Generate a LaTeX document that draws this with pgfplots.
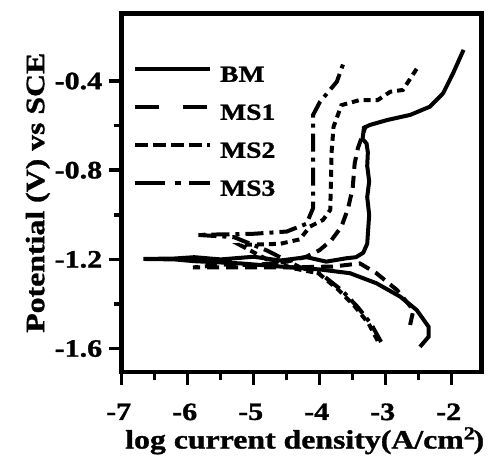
\documentclass[border=0pt]{standalone}
\usepackage{pgfplots}
\pgfplotsset{compat=1.18}
\usepackage{fontspec}
\setmainfont{Liberation Serif}[FakeStretch=1.2, BoldFeatures={FakeBold=1.2}]

\begin{document}
\begin{tikzpicture}
\begin{axis}[
    scale only axis,
    width=360pt, height=358.5pt,
    xmin=-7, xmax=-1.545,
    ymin=-1.705, ymax=-0.097,
    xtick={-7,-6,-5,-4,-3,-2},
    ytick={-1.6,-1.2,-0.8,-0.4},
    yticklabels={-1.6,-1.2,-0.8,-0.4},
    minor x tick num=1,
    minor y tick num=1,
    xtick pos=bottom, ytick pos=left,
    tick align=outside,
    major tick length=13pt,
    minor tick length=8pt,
    tick style={line width=3.5pt, black},
    axis line style={line width=4.5pt},
    /pgf/number format/assume math mode=true,
    ticklabel style={font=\bfseries\fontsize{25}{25}\selectfont},
    xticklabel style={yshift=-15pt, xshift=-3pt},
    yticklabel style={xshift=-3pt},
    label style={font=\bfseries\fontsize{26.5}{26.5}\selectfont},
    xlabel={log current density(A/cm$^{\mathbf{2}}$)},
    ylabel={Potential (V) vs SCE},
    xlabel style={yshift=0pt, xshift=3pt},
    ylabel style={yshift=-2pt},
    legend image code/.code={\draw[#1, line width=4pt] (0pt,6.5pt) -- (75pt,6.5pt);},
    legend style={draw=none, fill=none, at={(axis cs:-6.83,-0.335)}, anchor=north west,
        font=\bfseries\fontsize{23}{23}\selectfont, inner sep=0pt, column sep=8pt,
        row sep=21pt, nodes={inner sep=0pt, text height=15pt, text depth=2pt}},
    legend cell align=left,
]
\coordinate (sw) at (rel axis cs:0,0);
\coordinate (ne) at (rel axis cs:1,1);

% BM
\addplot[black, line width=4pt, forget plot] coordinates {
(-2.48,-1.592) (-2.35,-1.547) (-2.35,-1.502) (-2.53,-1.427) (-2.78,-1.367)
(-3.14,-1.307) (-3.54,-1.262) (-4.0,-1.245) (-4.6,-1.232) (-5.2,-1.218)
(-5.9,-1.208) (-6.2,-1.2) (-6.67,-1.198) (-6.2,-1.196) (-5.9,-1.19)
(-5.5,-1.2) (-5.0,-1.188) (-4.6,-1.205) (-4.2,-1.19) (-3.9,-1.21)
(-3.6,-1.195) (-3.45,-1.19) (-3.34,-1.17) (-3.28,-1.13)
(-3.25,-1.0) (-3.28,-0.92) (-3.25,-0.85) (-3.28,-0.78) (-3.27,-0.72) (-3.29,-0.68) (-3.35,-0.66)
(-3.33,-0.61) (-3.24,-0.597) (-2.98,-0.575) (-2.63,-0.552) (-2.33,-0.515)
(-2.13,-0.455) (-1.98,-0.366) (-1.82,-0.26)
};
% MS1
\addplot[black, line width=4pt, dash pattern=on 12pt off 7pt, forget plot] coordinates {
(-2.63,-1.494) (-2.58,-1.427) (-2.83,-1.337) (-3.14,-1.262) (-3.39,-1.218)
(-3.8,-1.232) (-4.5,-1.236) (-5.92,-1.236) (-5.4,-1.222) (-5.0,-1.226) (-4.5,-1.21)
(-4.2,-1.188) (-4.0,-1.158) (-3.82,-1.113) (-3.67,-1.053) (-3.57,-0.971)
(-3.5,-0.88) (-3.47,-0.77) (-3.42,-0.7) (-3.36,-0.65) (-3.3,-0.6)
};
% MS2
\addplot[black, line width=4pt, dash pattern=on 7pt off 5pt, forget plot] coordinates {
(-3.12,-1.565) (-3.26,-1.487) (-3.47,-1.41) (-3.72,-1.335) (-4.02,-1.262)
(-4.4,-1.24) (-4.8,-1.2) (-5.21,-1.135) (-4.6,-1.13) (-4.3,-1.11)
(-4.15,-1.053) (-3.95,-1.023) (-3.84,-0.978) (-3.83,-0.85) (-3.82,-0.72)
(-3.79,-0.605) (-3.67,-0.508) (-3.39,-0.485) (-3.12,-0.485) (-2.93,-0.448)
(-2.74,-0.44) (-2.51,-0.336)
};
% MS3
\addplot[black, line width=4pt, dash pattern=on 18pt off 6pt on 4pt off 6pt, forget plot] coordinates {
(-3.07,-1.57) (-3.22,-1.49) (-3.42,-1.415) (-3.66,-1.34) (-3.98,-1.265)
(-4.3,-1.235) (-4.8,-1.16) (-5.3,-1.1) (-5.86,-1.09) (-5.0,-1.085)
(-4.5,-1.075) (-4.2,-1.04) (-4.1,-0.97) (-4.1,-0.8) (-4.1,-0.65)
(-4.1,-0.552) (-3.995,-0.493) (-3.74,-0.403) (-3.64,-0.32)
};

\addlegendimage{black}
\addlegendentry{BM}
\addlegendimage{black, dash pattern=on 24pt off 24pt}
\addlegendentry{MS1}
\addlegendimage{black, dash pattern=on 13pt off 5pt}
\addlegendentry{MS2}
\addlegendimage{black, dash pattern=on 30pt off 10pt on 6pt off 8pt}
\addlegendentry{MS3}
\end{axis}
\path (sw) ++(-121.7pt,-96pt) coordinate (bbA);
\path (ne) ++(7.3pt,13.5pt) coordinate (bbB);
\pgfresetboundingbox
\path (bbA) rectangle (bbB);
\end{tikzpicture}
\end{document}
